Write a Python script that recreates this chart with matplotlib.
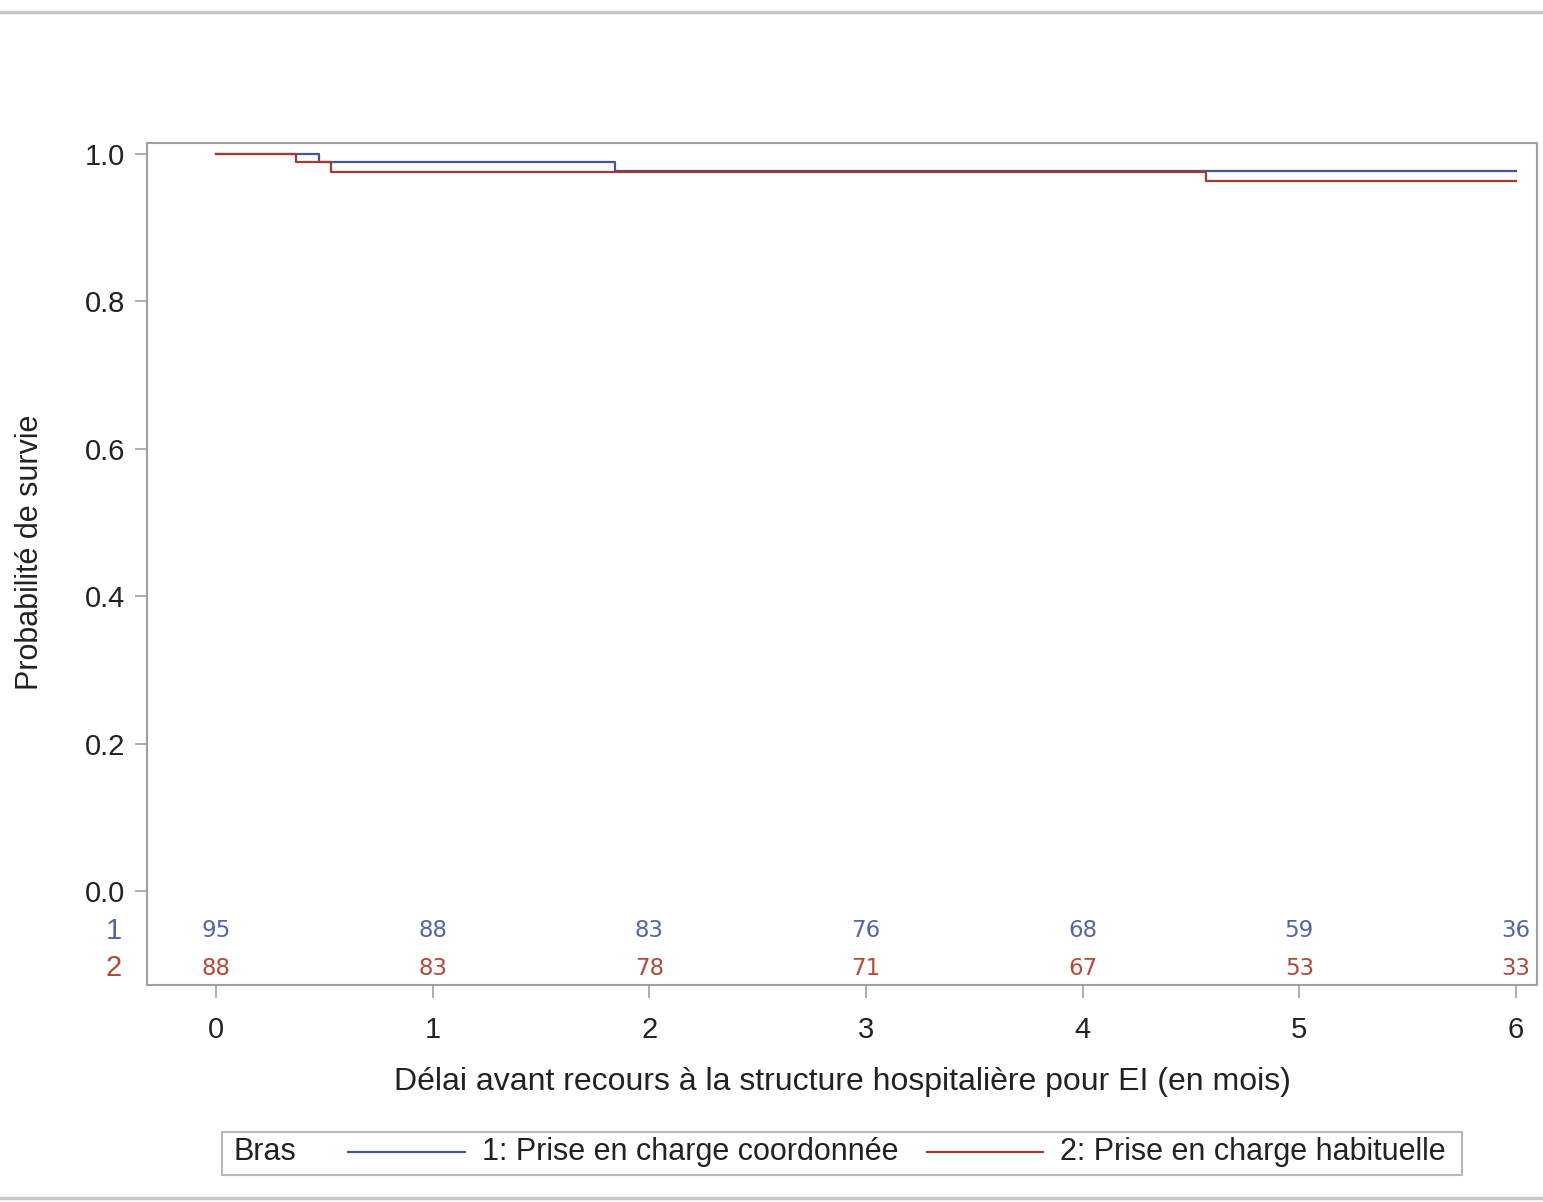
import numpy as np
import matplotlib
matplotlib.use("Agg")
import matplotlib.pyplot as plt
from matplotlib.lines import Line2D
from matplotlib.patches import Rectangle

plt.rcParams["font.family"] = ["Liberation Sans", "DejaVu Sans"]

########## DATA ##########
# Kaplan-Meier step curves (time in months, survival probability)
t_arm1 = [0.0, 0.475, 1.84, 6.0]
s_arm1 = [1.0, 0.989, 0.977, 0.977]
t_arm2 = [0.0, 0.37, 0.53, 4.57, 6.0]
s_arm2 = [1.0, 0.989, 0.976, 0.963, 0.963]

# numbers at risk
risk_times = [0, 1, 2, 3, 4, 5, 6]
risk_arm1 = [95, 88, 83, 76, 68, 59, 36]
risk_arm2 = [88, 83, 78, 71, 67, 53, 33]

labels = ["1: Prise en charge coordonnée", "2: Prise en charge habituelle"]
###### END DATA ##########

blue = "#445694"
red = "#A23A2E"
blue_txt = "#5566a3"
red_txt = "#b04a3c"
grey = "#a0a0a0"
txt = "#222222"

W, H = 1543, 1202
fig = plt.figure(figsize=(W / 100, H / 100), dpi=100)


def fx(px):
    return px / W


def fy(py):
    return 1 - py / H


ax = fig.add_axes([fx(147), fy(985), fx(1537) - fx(147), fy(143) - fy(985)])

ax.step(t_arm1, s_arm1, where="post", color=blue, lw=1.6)
ax.step(t_arm2, s_arm2, where="post", color=red, lw=1.6)

ax.set_xlim(-0.318, 6.097)
ax.set_ylim(-0.1275, 1.015)

# at-risk table inside the axes
for t, n1, n2 in zip(risk_times, risk_arm1, risk_arm2):
    ax.text(t, -0.054, str(n1), color=blue_txt, fontsize=16.5, family="DejaVu Sans",
            ha="center", va="center")
    ax.text(t, -0.1045, str(n2), color=red_txt, fontsize=16.5, family="DejaVu Sans",
            ha="center", va="center")
ax.text(-0.47, -0.054, "1", color=blue_txt, fontsize=21, ha="center", va="center")
ax.text(-0.47, -0.1045, "2", color=red_txt, fontsize=21, ha="center", va="center")

ax.set_xticks(risk_times)
ax.set_yticks(np.arange(0, 1.01, 0.2))
ax.set_yticklabels([f"{v:.1f}" for v in np.arange(0, 1.01, 0.2)])
ax.tick_params(axis="both", direction="out", length=9, width=1.2, color=grey,
               labelsize=21, labelcolor=txt)
ax.tick_params(axis="x", pad=13)
ax.tick_params(axis="y", pad=7)
for sp in ax.spines.values():
    sp.set_color(grey)
    sp.set_linewidth(1.5)

fig.text(fx(842), fy(1082), "Délai avant recours à la structure hospitalière pour EI (en mois)",
         fontsize=23, color=txt, ha="center", va="center")
fig.text(fx(30), fy(552), "Probabilité de survie", fontsize=22, color=txt,
         ha="center", va="center", rotation=90)

# legend drawn as a boxed row
fig.patches.append(Rectangle((fx(222), fy(1175)), fx(1462) - fx(222), fy(1132) - fy(1175),
                             transform=fig.transFigure, fill=False, edgecolor="#b8b8b8", lw=1.5))
ly = fy(1152)
fig.text(fx(234), ly, "Bras", fontsize=22, color=txt, ha="left", va="center")
fig.lines.append(Line2D([fx(348), fx(465)], [ly, ly], transform=fig.transFigure, color=blue, lw=1.6))
fig.text(fx(482), ly, labels[0], fontsize=22, color=txt, ha="left", va="center")
fig.lines.append(Line2D([fx(927), fx(1043)], [ly, ly], transform=fig.transFigure, color=red, lw=1.6))
fig.text(fx(1060), ly, labels[1], fontsize=22, color=txt, ha="left", va="center")

# frame separators at top and bottom
fig.lines.append(Line2D([0, 1], [fy(12), fy(12)], transform=fig.transFigure, color="#c8c8c8", lw=2.5))
fig.lines.append(Line2D([0, 1], [fy(1198), fy(1198)], transform=fig.transFigure, color="#c8c8c8", lw=2.5))

plt.savefig("out.png", dpi=100)
